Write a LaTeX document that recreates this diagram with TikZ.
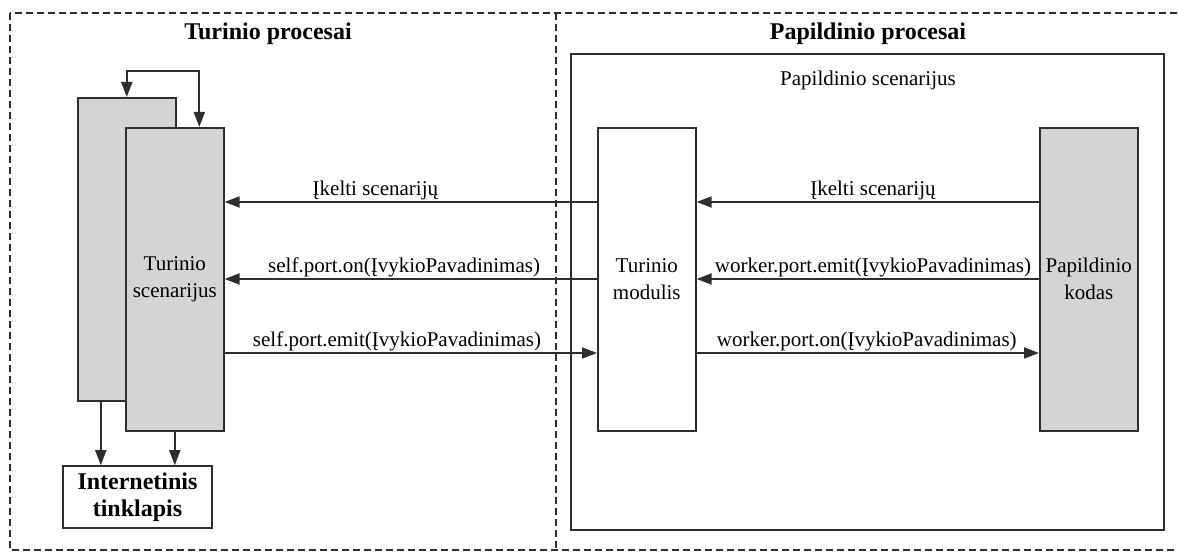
\documentclass[tikz,border=0pt]{standalone}
\usepackage{fontspec}
\setmainfont{Liberation Serif}
\newfontfamily\labelfont{Liberation Serif}
\usetikzlibrary{arrows.meta}
\definecolor{boxgray}{HTML}{D4D4D4}
\definecolor{edge}{HTML}{2E2E2E}
\begin{document}
\begin{tikzpicture}[x=1pt,y=-1pt,
  txt/.style={font=\labelfont\fontsize{21pt}{27pt}\selectfont},
  bold/.style={font=\labelfont\fontsize{24pt}{27pt}\selectfont\bfseries},
  proc/.style={draw=edge, line width=1.6pt, inner sep=0pt, align=center, txt},
  grayproc/.style={proc, fill=boxgray},
  msg/.style={draw=edge, line width=1.8pt, -{Triangle[length=15pt,width=11pt]}},
  lbl/.style={txt, above, inner sep=1.5pt},
  region/.style={draw=edge, line width=1.3pt, dash pattern=on 7pt off 4pt}]
\useasboundingbox (0,0) rectangle (1178,553);
\clip (0,0) rectangle (1178,553);

% process regions
\draw[region] (10,13) rectangle (1195,550);
\draw[region] (556,13) -- (556,550);
\node[bold] (ttitle) at (268,34) {Turinio procesai};
\node[bold] (ptitle) at (868,34) {Papildinio procesai};

% add-on script frame
\node[draw=edge, line width=1.6pt, minimum width=593pt, minimum height=476pt,
      anchor=north west, inner sep=0pt] (pscript) at (570,53) {};
\node[txt] (pscriptlbl) at (868,80) {Papildinio scenarijus};

% content scripts (stacked)
\node[grayproc, minimum width=98pt, minimum height=303pt, anchor=north west] (back) at (77,97) {};
\node[grayproc, minimum width=98pt, minimum height=303pt, anchor=north west] (front) at (125,127) {Turinio\\scenarijus};

% content module and add-on code
\node[proc, minimum width=98pt, minimum height=303pt, anchor=north west] (modulis) at (597,127) {Turinio\\modulis};
\node[grayproc, minimum width=98pt, minimum height=303pt, anchor=north west] (kodas) at (1039,127) {Papildinio\\kodas};

% web page
\node[proc, bold, minimum width=149pt, minimum height=62pt] (web) at (137.5,497) {Internetinis\\tinklapis};

% loop between stacked scripts
\coordinate (loopR) at ([xshift=24.5pt]front.north);
\draw[msg, {Triangle[length=15pt,width=11pt]}-{Triangle[length=15pt,width=11pt]}]
  (back.north) -- ++(0,-26) -| (loopR);

% scripts to web page
\coordinate (b1) at ([xshift=-26pt]back.south);
\draw[msg] (b1) -- (b1 |- web.north);
\draw[msg] (front.south) -- (front.south |- web.north);

% message rows
\coordinate (r1) at (0,202);
\coordinate (r2) at (0,279);
\coordinate (r3) at (0,353);

\draw[msg] (modulis.west |- r1) -- node[lbl, pos=0.595] {Įkelti scenarijų} (front.east |- r1);
\draw[msg] (modulis.west |- r2) -- node[lbl, pos=0.518] {self.port.on(ĮvykioPavadinimas)} (front.east |- r2);
\draw[msg] (front.east |- r3) -- node[lbl, pos=0.463] {self.port.emit(ĮvykioPavadinimas)} (modulis.west |- r3);

\draw[msg] (kodas.west |- r1) -- node[lbl, pos=0.485] {Įkelti scenarijų} (modulis.east |- r1);
\draw[msg] (kodas.west |- r2) -- node[lbl, pos=0.485] {worker.port.emit(ĮvykioPavadinimas)} (modulis.east |- r2);
\draw[msg] (modulis.east |- r3) -- node[lbl, pos=0.497] {worker.port.on(ĮvykioPavadinimas)} (kodas.west |- r3);
\end{tikzpicture}
\end{document}
